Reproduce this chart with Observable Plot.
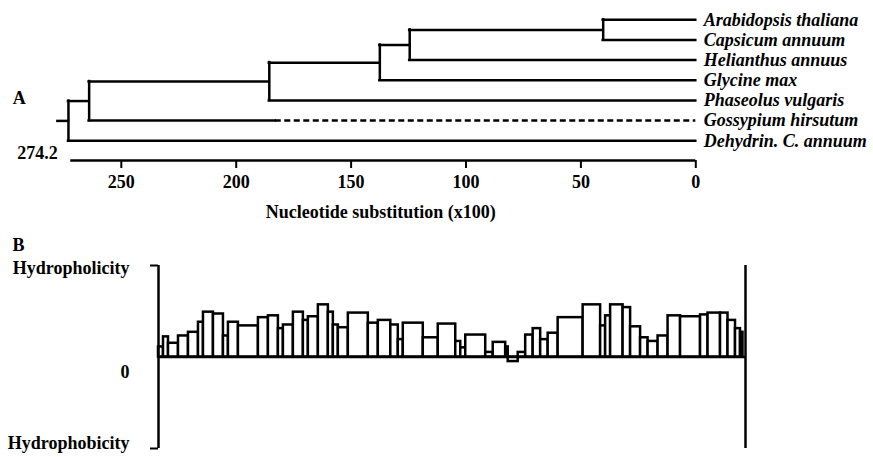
<!DOCTYPE html>
<html>
<head>
<meta charset="utf-8">
<script src="https://cdn.jsdelivr.net/npm/d3@7"></script>
<script src="https://cdn.jsdelivr.net/npm/@observablehq/plot@0.6"></script>
<style>
  html, body { margin: 0; padding: 0; background: white; }
  #chart { width: 873px; }
  #chart svg { display: block; }
</style>
</head>
<body>
<div id="chart"></div>
<script>
// ---------- Panel A: dendrogram ----------
const leaves = ["Arabidopsis thaliana", "Capsicum annuum", "Helianthus annuus", "Glycine max",
                "Phaseolus vulgaris", "Gossypium hirsutum", "Dehydrin. C. annuum"];
// merges: [childA, childB, height]; leaves are 0..6, internal nodes 7.. in merge order
const merges = [[0, 1, 40.3], [7, 2, 124.5], [8, 3, 137.5], [9, 4, 185.6], [10, 5, 264], [11, 6, 273]];
const rootTail = 277.6;          // start of the root stub
const dashedLeaf = 5;            // Gossypium hirsutum
const dashedFrom = 183;          // dashed part of its branch starts here
const treeTicks = [250, 200, 150, 100, 50, 0];
const axisStart = 272;
const scaleLabel = 274.2;
const axisTitle = "Nucleotide substitution (x100)";

// ---------- Panel B: hydropathy bars ----------
const barEdges = [0,2,4,8,12,16,18,22,26,28,32,40,44,48,50,54,58,60,64,68,70,72,76,84,88,93,96,98,106,112,
                  119,121,123,131,134,139,140,144,147,150,153,156,160,170,177,179,181,186,189,193,196,200,
                  204,209,217,220,225,228,231,233,234];
const barValues = [11,22,15,23,27,38,49,47,23,38,34,43,45,31,35,49,40,44,57,49,35,32,48,37,40,35,19,37,21,36,
                   17,10,24,5,16,11,-5,5,24,31,19,26,43,57,34,45,57,54,33,21,17,23,45,44,46,48,48,40,31,27];
const seqLength = 235;
const yLabels = [{v: 100, t: "Hydropholicity"}, {v: 0, t: "0"}, {v: -100, t: "Hydrophobicity"}];

(function () {
  // ---- build tree geometry from structure ----
  const nodeY = leaves.map((_, i) => i);
  const nodeH = leaves.map(() => 0);
  const parent = [];
  merges.forEach(([a, b, h], k) => {
    const id = leaves.length + k;
    nodeY[id] = (nodeY[a] + nodeY[b]) / 2;
    nodeH[id] = h;
    parent[a] = id; parent[b] = id;
  });
  const rootId = leaves.length + merges.length - 1;
  const vSegs = merges.map(([a, b, h]) => ({x: h, y1: nodeY[a], y2: nodeY[b]}));
  const hSolid = [], hDashed = [];
  nodeY.forEach((y, id) => {
    const from = id === rootId ? rootTail : nodeH[parent[id]];
    if (id === dashedLeaf) {
      hSolid.push({y, x1: from, x2: dashedFrom});
      hDashed.push({y, x1: dashedFrom, x2: nodeH[id]});
    } else {
      hSolid.push({y, x1: from, x2: nodeH[id]});
    }
  });

  const font = "'Liberation Serif', 'Times New Roman', serif";
  const baseStyle = {fontFamily: font, fontWeight: "bold", fontSize: "18px", color: "black", background: "white", overflow: "visible"};
  const sw = 2.5;

  const treePlot = Plot.plot({
    width: 873, height: 225,
    marginLeft: 65.2, marginRight: 177.7, marginTop: 19.3, marginBottom: 65,
    style: baseStyle,
    x: {domain: [274.2, 0]},
    y: {domain: [0, 6.98], reverse: true, axis: null},
    marks: [
      Plot.ruleX(vSegs, {x: "x", y1: "y1", y2: "y2", stroke: "black", strokeWidth: sw, strokeLinecap: "square"}),
      Plot.ruleY(hSolid, {y: "y", x1: "x1", x2: "x2", stroke: "black", strokeWidth: sw, strokeLinecap: "square"}),
      Plot.ruleY(hDashed, {y: "y", x1: "x1", x2: "x2", stroke: "black", strokeWidth: sw, strokeDasharray: "6,3.5"}),
      Plot.text(leaves, {x: 0, y: (d, i) => i, text: d => d, textAnchor: "start", dx: 8, fontStyle: "italic", fontSize: 18}),
      Plot.ruleY([6.98], {x1: axisStart, x2: 0, stroke: "black", strokeWidth: sw}),
      Plot.axisX({ticks: treeTicks, tickSize: 8, tickPadding: 7, strokeWidth: 2, label: null, fontSize: 18}),
      Plot.text([scaleLabel], {x: d => d, y: 6.98, text: d => String(d), textAnchor: "end", dx: -8, dy: -7, fontSize: 18}),
      Plot.text([axisTitle], {frameAnchor: "bottom", text: d => d, dy: 52, lineAnchor: "middle", fontSize: 18}),
      Plot.text(["A"], {frameAnchor: "top-left", text: d => d, dx: -53, dy: 71, textAnchor: "start", fontSize: 18})
    ]
  });

  const bars = barValues.map((v, i) => ({x1: barEdges[i], x2: barEdges[i + 1], v}));

  const barPlot = Plot.plot({
    width: 873, height: 232,
    marginLeft: 158, marginRight: 128, marginTop: 40, marginBottom: 9,
    style: baseStyle,
    x: {domain: [0, seqLength], axis: null},
    y: {domain: [-100, 100]},
    marks: [
      Plot.rect(bars, {x1: "x1", x2: "x2", y1: 0, y2: "v", fill: "white", stroke: "black", strokeWidth: sw}),
      Plot.ruleY([0], {stroke: "black", strokeWidth: sw}),
      Plot.ruleX([0], {y1: -100, y2: 100, stroke: "black", strokeWidth: sw}),
      Plot.ruleX([seqLength], {y1: -100, y2: 100, stroke: "black", strokeWidth: sw}),
      Plot.axisY({ticks: [-100, 100], tickSize: 8, tickFormat: () => "", strokeWidth: 2, label: null}),
      Plot.text(yLabels.filter(d => d.v === 100), {y: "v", text: "t", frameAnchor: "left", textAnchor: "end", dx: -29, dy: 3, fontSize: 18}),
      Plot.text(yLabels.filter(d => d.v === 0), {y: "v", text: "t", frameAnchor: "left", textAnchor: "end", dx: -29, dy: 15, fontSize: 18}),
      Plot.text(yLabels.filter(d => d.v === -100), {y: "v", text: "t", frameAnchor: "left", textAnchor: "end", dx: -29, dy: -5, fontSize: 18}),
      Plot.text(["B"], {frameAnchor: "top-left", text: d => d, dx: -146, dy: -27, textAnchor: "start", fontSize: 18})
    ]
  });

  const chart = document.getElementById("chart");
  chart.appendChild(treePlot);
  chart.appendChild(barPlot);
})();
</script>
</body>
</html>
